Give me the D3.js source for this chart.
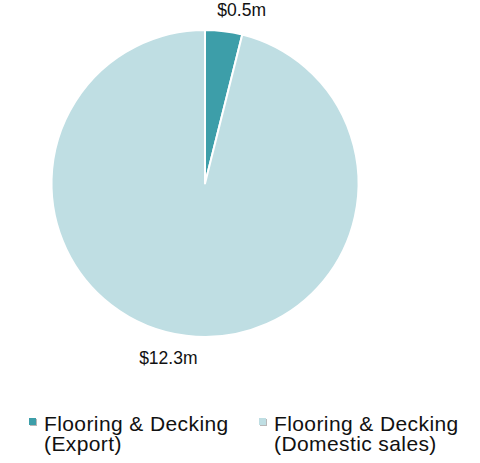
<!DOCTYPE html>
<html>
<head>
<meta charset="utf-8">
<script src="https://cdn.jsdelivr.net/npm/d3@7"></script>
<style>
  html, body { margin: 0; padding: 0; background: #fff; }
  svg { display: block; font-family: "Liberation Sans", Arial, sans-serif; }
</style>
</head>
<body>
<svg id="chart" width="480" height="463"></svg>
<script>
// Sales split, $ millions
const categories = ["Flooring & Decking (Export)", "Flooring & Decking (Domestic sales)"];
const legendLines = [["Flooring & Decking", "(Export)"], ["Flooring & Decking", "(Domestic sales)"]];
const values = [0.5, 12.3];
const valueLabels = ["$0.5m", "$12.3m"];
const colors = ["#3d9ea9", "#bfdee3"];

const svg = d3.select("#chart");
const cx = 205, cy = 183.5, radius = 153.5;

const pie = d3.pie().sort(null).value(d => d.value);
const arcs = pie(categories.map((c, i) => ({ name: c, value: values[i] })));
const arc = d3.arc().innerRadius(0).outerRadius(radius);

const g = svg.append("g").attr("transform", `translate(${cx},${cy})`);

g.selectAll("path.slice")
  .data(arcs)
  .join("path")
  .attr("class", "slice")
  .attr("d", arc)
  .attr("fill", (d, i) => colors[i])
  .attr("stroke", "#fff")
  .attr("stroke-width", 2)
  .attr("stroke-linejoin", "round");

// Value labels outside each slice
const labelR = 169;
g.selectAll("text.value")
  .data(arcs)
  .join("text")
  .attr("class", "value")
  .attr("x", d => {
    const a = (d.startAngle + d.endAngle) / 2;
    return labelR * Math.sin(a) + Math.sign(Math.sin(a)) * 16;
  })
  .attr("y", d => {
    const a = (d.startAngle + d.endAngle) / 2;
    return -labelR * Math.cos(a);
  })
  .attr("dy", d => {
    const a = (d.startAngle + d.endAngle) / 2;
    return Math.cos(a) > 0 ? "0" : "0.75em";
  })
  .attr("text-anchor", "middle")
  .attr("font-size", 17.5)
  .attr("fill", "#111")
  .text((d, i) => valueLabels[i]);

// Legend
const legendX = [29, 259];
const legend = svg.selectAll("g.legend")
  .data(categories)
  .join("g")
  .attr("class", "legend")
  .attr("transform", (d, i) => `translate(${legendX[i]},418)`);

legend.append("rect")
  .attr("x", 1).attr("y", 1)
  .attr("width", 7).attr("height", 7)
  .attr("fill", "#b8b8b8");
legend.append("rect")
  .attr("width", 7).attr("height", 7)
  .attr("fill", (d, i) => colors[i]);

legend.each(function(d, i) {
  const t = d3.select(this).append("text")
    .attr("x", 15)
    .attr("y", 13)
    .attr("font-size", 21)
    .attr("letter-spacing", 0.4)
    .attr("fill", "#111");
  legendLines[i].forEach((line, j) => {
    t.append("tspan").attr("x", 15).attr("dy", j === 0 ? 0 : 19.5).text(line);
  });
});
</script>
</body>
</html>
